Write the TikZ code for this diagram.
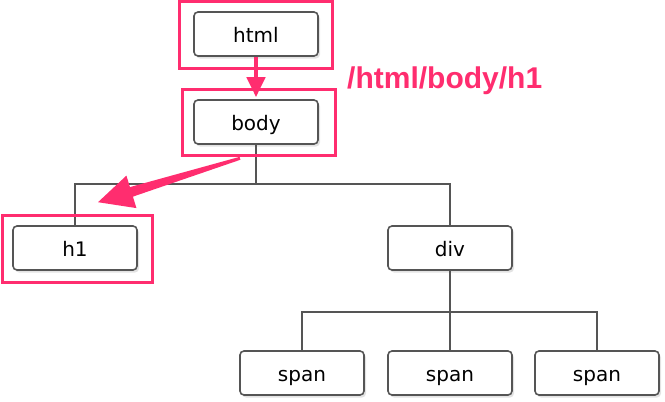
\documentclass[tikz,border=0pt]{standalone}
\usepackage{fontspec}
\setmainfont{DejaVu Sans}
\newfontfamily\pathfont{Liberation Sans}
\usetikzlibrary{calc,positioning,shadows,arrows.meta}
\definecolor{marker}{HTML}{FF2D6F}
\definecolor{edgegray}{HTML}{555555}
\tikzset{
  tag/.style={draw=edgegray, line width=1.6pt, rounded corners=4pt, fill=white,
    minimum width=124pt, minimum height=44pt, font=\fontsize{20}{22}\selectfont,
    text height=21pt, text depth=4pt,
    drop shadow={opacity=0.22, shadow xshift=2pt, shadow yshift=-2.5pt}},
  link/.style={edgegray, line width=1.6pt},
  frame/.style={marker, line width=2.8pt},
  pointer/.style={marker, line width=4.5pt, -{Triangle[width=18pt,length=20pt]}},
}

\begin{document}
\begin{tikzpicture}[x=1pt,y=-1pt,on grid]
  \useasboundingbox (0,0) rectangle (665,402);
  % tree nodes
  \node[tag] (html) at (256,34) {html};
  \node[tag] (body) [below=88pt of html] {body};
  \node[tag] (h1) at (75,248) {h1};
  \node[tag] (div) at (450,248) {div};
  \node[tag] (span1) at (302,373) {span};
  \node[tag] (span2) [below=125pt of div] {span};
  \node[tag] (span3) at (597,373) {span};
  % tree edges
  \coordinate (bar1) at ($(body.south)+(0,39)$);
  \coordinate (bar2) at ($(div.south)+(0,41)$);
  \draw[link] (body.south) -- (bar1) -| (h1.north);
  \draw[link] (bar1) -| (div.north);
  \draw[link] (div.south) -- (span2.north);
  \draw[link] (span1.north) |- (bar2) -| (span3.north);
  % highlight frames
  \draw[frame] ([shift={(-14,-10)}]html.north west) rectangle ([shift={(14,12)}]html.south east);
  \draw[frame] ([shift={(-11,-10)}]body.north west) rectangle ([shift={(17,11)}]body.south east);
  \draw[frame] ([shift={(-10,-10)}]h1.north west) rectangle ([shift={(15,12)}]h1.south east);
  % path arrows
  \coordinate (bodytip) at ($(body.north)+(0,-2)$);
  \draw[pointer] (html.south) -- (bodytip);
  \coordinate (tail) at ($(body.south)+(-16,13.5)$);
  \coordinate (tip) at ($(h1.north)+(23,-23)$);
  \coordinate (base) at ($(tip)!35pt!(tail)$);
  \fill[marker] ($(tail)!1.5pt!90:(tip)$) -- ($(base)!5pt!-90:(tail)$)
    -- ($(base)!17pt!-90:(tail)$) -- (tip) -- ($(base)!17pt!90:(tail)$)
    -- ($(base)!5pt!90:(tail)$) -- ($(tail)!1.5pt!-90:(tip)$) -- cycle;
  % xpath label
  \node[anchor=base west, inner sep=0pt, text=marker,
    font=\pathfont\bfseries\fontsize{30}{32}\selectfont] (xpath) at (347,88) {/html/body/h1};
\end{tikzpicture}
\end{document}
